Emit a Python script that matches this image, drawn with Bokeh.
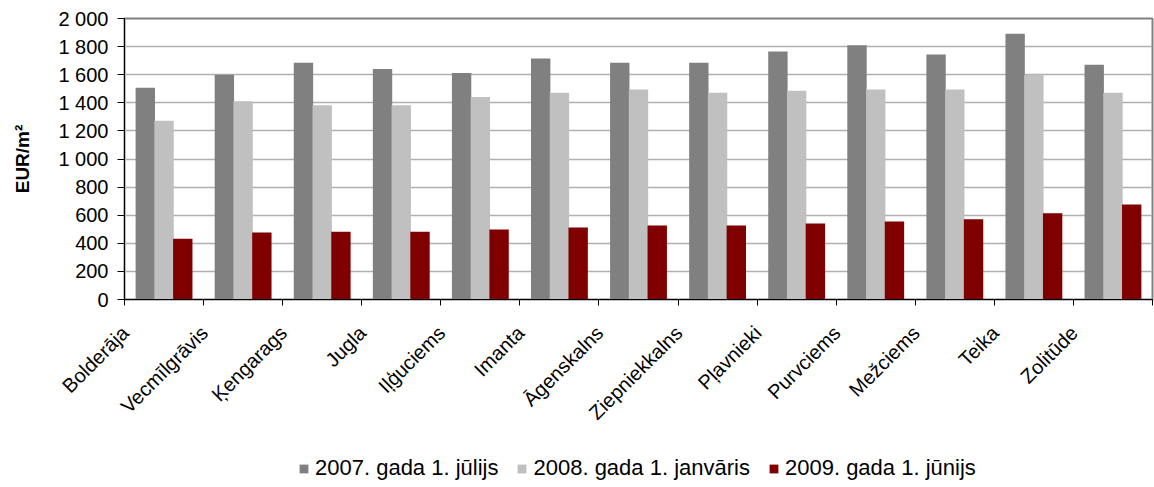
import math
from bokeh.plotting import figure
from bokeh.layouts import column
from bokeh.models import (ColumnDataSource, Range1d, LinearAxis, FixedTicker,
                          Legend, LegendItem)
from bokeh.transform import dodge
from bokeh.embed import file_html
from bokeh.resources import INLINE

districts = ["Bolderāja", "Vecmīlgrāvis", "Ķengarags", "Jugla", "Iļģuciems", "Imanta",
             "Āgenskalns", "Ziepniekkalns", "Pļavnieki", "Purvciems", "Mežciems", "Teika",
             "Zolitūde"]
series_names = ["2007. gada 1. jūlijs", "2008. gada 1. janvāris", "2009. gada 1. jūnijs"]
v2007 = [1508, 1600, 1685, 1641, 1612, 1715, 1685, 1685, 1766, 1810, 1744, 1892, 1671]
v2008 = [1272, 1411, 1383, 1383, 1442, 1472, 1495, 1472, 1486, 1495, 1495, 1600, 1472]
v2009 = [432, 476, 483, 483, 498, 512, 527, 527, 541, 556, 571, 614, 676]
y_ticks = [0, 200, 400, 600, 800, 1000, 1200, 1400, 1600, 1800, 2000]
y_label = "EUR/m²"

colors = ["#808080", "#c0c0c0", "#800000"]
cols = ["v2007", "v2008", "v2009"]
offsets = [-0.237, 0.0, 0.237]
FONT = "Liberation Sans"

n = len(districts)
centers = [i + 0.5 for i in range(n)]
boundaries = list(range(n + 1))
src = ColumnDataSource(dict(district=districts, pos=centers,
                            v2007=v2007, v2008=v2008, v2009=v2009))

p = figure(x_range=Range1d(0, n), y_range=Range1d(0, 2000),
           width=1154, height=450, output_backend="svg", toolbar_location=None,
           min_border_left=124, min_border_right=2,
           min_border_top=18, min_border_bottom=151)
p.background_fill_color = "white"
p.border_fill_color = "white"
p.outline_line_color = "#808080"
p.outline_line_width = 2

for col, off, color in zip(cols, offsets, colors):
    p.vbar(x=dodge("pos", off), top=col, width=0.245,
           source=src, fill_color=color, line_color=None)

# y axis
yax = p.yaxis[0]
yax.ticker = FixedTicker(ticks=y_ticks)
yax.major_label_overrides = {t: f"{t:,}".replace(",", " ") for t in y_ticks}
yax.major_label_text_font = FONT
yax.major_label_text_font_size = "20px"
yax.major_label_text_color = "black"
yax.major_label_standoff = 9
yax.major_tick_out = 7
yax.major_tick_in = 0
yax.minor_tick_out = 0
yax.minor_tick_in = 0
yax.axis_line_color = "black"
yax.major_tick_line_color = "black"
yax.axis_label = y_label
yax.axis_label_text_font = FONT
yax.axis_label_text_font_size = "19px"
yax.axis_label_text_font_style = "bold"
yax.axis_label_text_color = "black"
yax.axis_label_standoff = 22

p.xgrid.visible = False
p.ygrid.ticker = FixedTicker(ticks=y_ticks)
p.ygrid.grid_line_color = "#b0b0b0"
p.ygrid.grid_line_width = 1.6

# x axis: ticks at category boundaries, empty labels
xax = p.xaxis[0]
xax.ticker = FixedTicker(ticks=boundaries)
xax.major_label_overrides = {b: "" for b in boundaries}
xax.major_label_text_font_size = "0px"
xax.major_label_standoff = 0
xax.major_tick_out = 6
xax.major_tick_in = 0
xax.minor_tick_out = 0
xax.minor_tick_in = 0
xax.axis_line_color = "black"
xax.major_tick_line_color = "black"

# second axis carrying the rotated category names, set a little left of centre
p.extra_x_ranges = {"lab": Range1d(0.49, n + 0.49)}
lab = LinearAxis(x_range_name="lab", ticker=FixedTicker(ticks=centers))
lab.major_label_overrides = {c: d for c, d in zip(centers, districts)}
lab.major_label_orientation = math.pi / 4
lab.major_label_text_font = FONT
lab.major_label_text_font_size = "20px"
lab.major_label_text_color = "black"
lab.major_label_standoff = 24
lab.major_tick_out = 0
lab.major_tick_in = 0
lab.minor_tick_out = 0
lab.minor_tick_in = 0
lab.axis_line_color = None
lab.major_tick_line_color = None
p.add_layout(lab, "below")

# legend strip underneath (its bars have no width and lie outside its y range)
lg = figure(x_range=Range1d(0, n), y_range=Range1d(-20000, -10000),
            width=1154, height=37, output_backend="svg", toolbar_location=None,
            x_axis_location=None, y_axis_location=None,
            min_border_left=0, min_border_right=0, min_border_top=0, min_border_bottom=0)
lg.outline_line_color = None
lg.xgrid.visible = False
lg.ygrid.visible = False
lg.background_fill_color = "white"
lg.border_fill_color = "white"
rs = []
for col, off, color in zip(cols, offsets, colors):
    rs.append(lg.vbar(x=dodge("pos", off), top=col, width=0,
                      source=src, fill_color=color, line_color=None))

legend = Legend(items=[LegendItem(label=s, renderers=[r]) for s, r in zip(series_names, rs)],
                orientation="horizontal", location=(174, 6))
legend.label_text_font = FONT
legend.label_text_font_size = "22px"
legend.label_text_color = "black"
legend.glyph_width = 11
legend.glyph_height = 11
legend.label_standoff = 6
legend.spacing = 18
legend.padding = 0
legend.margin = 0
legend.border_line_color = None
legend.background_fill_alpha = 0
lg.add_layout(legend, "center")

layout = column(p, lg, spacing=0)
open("out.html", "w").write(file_html(layout, INLINE))
